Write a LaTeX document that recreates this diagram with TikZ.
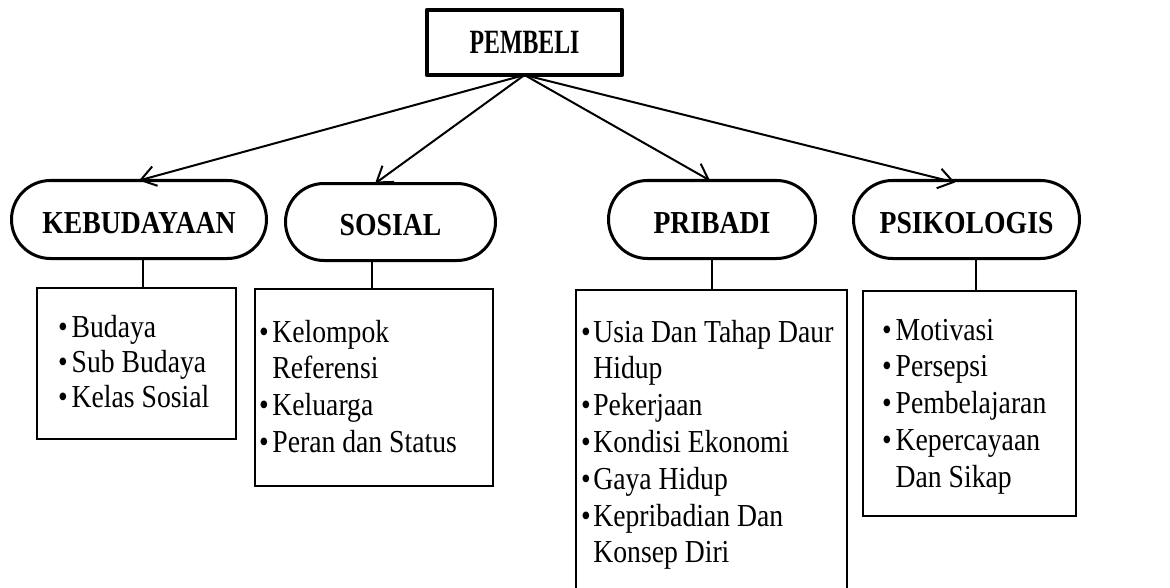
\documentclass[tikz,border=0pt]{standalone}
\usepackage{fontspec}
\setmainfont[FakeStretch=0.865]{Liberation Serif}
\newfontfamily\titlefont[FakeStretch=0.70]{Liberation Serif}
\usetikzlibrary{shapes.misc,arrows.meta,calc}
\newcommand\dnshift[1]{\raisebox{-2.25pt}[\height][0pt]{#1}}
\newcommand\bul{\textbullet}
\begin{document}
\begin{tikzpicture}[x=0.75pt,y=-0.75pt,
  every node/.style={inner sep=0pt,outer sep=0pt},
  stadium/.style={rounded rectangle, draw, line width=2.25pt, minimum height=58.5pt,
    font=\fontsize{24}{28}\selectfont\bfseries},
  listbox/.style={draw, line width=1.6pt},
  listtext/.style={anchor=base west, font=\fontsize{24}{27.6}\selectfont},
  arr/.style={line width=1.5pt, -{Straight Barb[length=11pt,width=15pt]}},
  conn/.style={line width=1.5pt}]
\clip (0,0) rectangle (1170,588);
\fill[white] (0,0) rectangle (1170,588);

% top node
\node[draw, line width=3.2pt, line join=round, minimum width=146.25pt, minimum height=48.75pt,
  font=\titlefont\fontsize{25.5}{30}\selectfont\bfseries] (pem) at (524.5,42.5) {PEMBELI};

% category nodes
\node[stadium, minimum width=191.25pt] (keb) at (139,219.5) {\dnshift{KEBUDAYAAN}};
\node[stadium, minimum width=157.5pt, minimum height=57.75pt] (sos) at (390.5,222) {\dnshift{SOSIAL}};
\node[stadium, minimum width=155.25pt] (pri) at (712,219.5) {\dnshift{PRIBADI}};
\node[stadium, minimum width=169.5pt] (psi) at (966.5,219.5) {\dnshift{PSIKOLOGIS}};

% list boxes
\node[listbox, minimum width=149.25pt, minimum height=113.25pt] (b1) at (136.5,363.5) {};
\node[listbox, minimum width=178.5pt, minimum height=147.75pt] (b2) at (374,387.5) {};
\node[listbox, minimum width=203.25pt, minimum height=232.5pt] (b3) at (711.5,445) {};
\node[listbox, minimum width=159.75pt, minimum height=168.75pt] (b4) at (969.5,403.5) {};

% list texts
\node[listtext, font=\fontsize{24}{26.25}\selectfont] (t1) at (58,337) {\begin{tabular}[t]{@{}l@{\hspace{3pt}}l@{}}
\bul & Budaya\\ \bul & Sub Budaya\\ \bul & Kelas Sosial\end{tabular}};
\node[listtext] (t2) at (259,342) {\begin{tabular}[t]{@{}l@{\hspace{2.8pt}}l@{}}
\bul & Kelompok\\ & Referensi\\ \bul & Keluarga\\ \bul & Peran dan Status\end{tabular}};
\node[listtext] (t3) at (581,342) {\begin{tabular}[t]{@{}l@{\hspace{2pt}}l@{}}
\bul & Usia Dan Tahap Daur\\ & Hidup\\ \bul & Pekerjaan\\ \bul & Kondisi Ekonomi\\
\bul & Gaya Hidup\\ \bul & Kepribadian Dan\\ & Konsep Diri\end{tabular}};
\node[listtext] (t4) at (882,340) {\begin{tabular}[t]{@{}l@{\hspace{3pt}}l@{}}
\bul & Motivasi\\ \bul & Persepsi\\ \bul & Pembelajaran\\ \bul & Kepercayaan\\
 & Dan Sikap\end{tabular}};

% arrows
\draw[arr] (pem.south) -- (keb.north);
\draw[arr] (pem.south) -- ([xshift=-11.6pt]sos.north);
\draw[arr] (pem.south) -- ([xshift=-1.5pt]pri.north);
\draw[arr] (pem.south) -- ([xshift=-8.6pt,yshift=-1.5pt]psi.north);

% vertical connectors
\draw[conn] ([xshift=3pt]keb.south) -- ([xshift=3pt]keb.south |- b1.north);
\draw[conn] ([xshift=-1.5pt]b2.north) -- ([xshift=-1.5pt]b2.north |- sos.south);
\draw[conn] (pri.south) -- (pri.south |- b3.north);
\draw[conn] ([xshift=7.1pt]psi.south) -- ([xshift=7.1pt]psi.south |- b4.north);
\end{tikzpicture}
\end{document}
